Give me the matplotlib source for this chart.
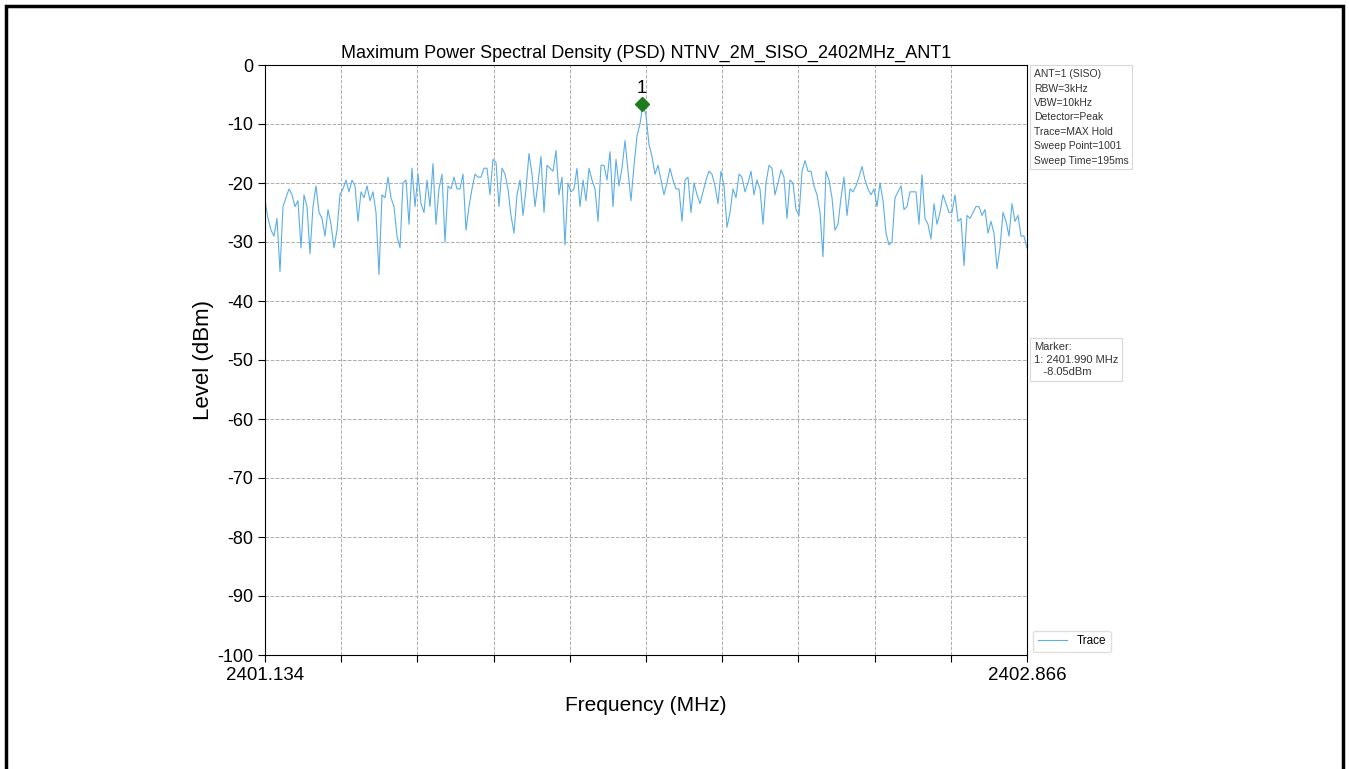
# max PSD plot, 2402 MHz, ANT1

import numpy as np
import matplotlib
matplotlib.use('Agg')
import matplotlib.pyplot as plt
from matplotlib.patches import Rectangle

plt.rcParams['font.family'] = ['Liberation Sans', 'DejaVu Sans']
plt.rcParams['axes.unicode_minus'] = False

f_start = 2401.134
f_stop = 2402.866

level = [
    -23, -26, -28, -29, -26, -35, -24, -22.5, -21, -22, -24, -23, -31, -22, -24,
    -32, -24, -20.5, -25, -26, -29, -24.5, -27, -31, -28, -22, -21, -19.5, -21.5,
    -19.5, -20.5, -26.5, -21.5, -22.5, -20.5, -23, -21.5, -25, -35.5, -22, -22.5,
    -19, -22.5,
    -24, -29, -31, -20, -19.5, -27, -17.5, -24, -18.5, -23.5, -25, -19.5, -24,
    -16.7, -27, -21, -18.5, -30, -20.5, -21, -19, -21, -21, -18.5, -28, -24, -21,
    -18.5, -19, -19, -17.5, -17.5, -22, -16, -16.5, -24, -17.5, -18.5, -21, -25.5,
    -28.5, -22,
    -19.5, -25.5, -21, -15, -18.5, -24, -20, -15.5, -25, -17, -17.5, -18, -14.5,
    -22, -19, -30.5, -20, -21.5, -21, -17.5, -24, -19.5, -23, -17.5, -19.5, -21,
    -26.5, -17, -17, -19.5, -14.7, -24, -16, -20.5, -17.5, -12.8, -18, -23, -17,
    -12, -10, -6.6,
    -8.5, -13.5, -15.5, -18.5, -17, -19.5, -22, -20, -17.5, -19.5, -21, -21, -26.5,
    -19.5, -19, -25, -20, -22, -23.5, -21.5, -19.5, -18, -18.5, -20.5, -23.5, -18,
    -20.5, -27.5, -25, -21, -22.5, -18.5, -19, -21.5, -20, -18, -22, -19.5, -21,
    -27, -20, -17, -17.5,
    -22, -20, -17.8, -19, -26, -19.5, -20, -24.5, -25.5, -18, -16.2, -18, -18,
    -20.5, -22, -25, -32.5, -18, -19.5, -22.5, -28, -27, -22.5, -19, -25.5, -21,
    -21.5, -20.5, -19, -17.2, -19.5, -21, -22, -21, -24, -20, -23, -28.5, -30.5,
    -30, -22.5, -21.5, -20.5,
    -24.5, -24, -21.5, -21.5, -21.5, -27, -18.6, -26, -27, -29.5, -23.5, -27, -25,
    -22, -23.5, -25, -25, -22, -26.5, -26, -34, -25.5, -26, -25, -24, -24, -25.5,
    -24.5, -28.5, -26.5, -28.5, -34.5, -31, -25, -26.5, -29, -23.5, -26.5, -25.5,
    -29, -29, -31,
]
freq = np.linspace(f_start, f_stop, len(level))

marker_freq = 2401.990
marker_level = -6.6
marker_text = 'Marker:\n1: 2401.990 MHz\n   -8.05dBm'

info = ['ANT=1 (SISO)', 'RBW=3kHz', 'VBW=10kHz', 'Detector=Peak',
        'Trace=MAX Hold', 'Sweep Point=1001', 'Sweep Time=195ms']

fig = plt.figure(figsize=(13.49, 7.69), dpi=100)
ax = fig.add_axes([265 / 1349, 114 / 769, 762 / 1349, 590 / 769])

ax.plot(freq, level, color='#5aaee8', linewidth=0.8, label='Trace')
ax.plot(marker_freq, marker_level, marker='D', color='#1e7b1e', markersize=7)
ax.annotate('1', (marker_freq, marker_level), xytext=(0, 5),
            textcoords='offset points', ha='center', va='bottom', fontsize=13)

ax.set_xlim(f_start, f_stop)
ax.set_ylim(-100, 0)
ticks = np.linspace(f_start, f_stop, 11)
ax.set_xticks(ticks)
ax.set_xticklabels(['%.3f' % ticks[0]] + [''] * 9 + ['%.3f' % ticks[-1]])
ax.set_yticks(range(-100, 1, 10))
ax.tick_params(labelsize=13, length=5)
ax.tick_params(axis='x', labelsize=13.5)
ax.grid(True, linestyle='--', color='#999999', linewidth=0.7, alpha=0.8)

ax.set_title('Maximum Power Spectral Density (PSD) NTNV_2M_SISO_2402MHz_ANT1',
             fontsize=13, pad=5)
ax.set_xlabel('Frequency (MHz)', fontsize=15, labelpad=9)
ax.set_ylabel('Level (dBm)', fontsize=16, labelpad=2)

box = dict(boxstyle='square,pad=0.35', fc='white', ec='#d8d8d8', lw=0.8)
ax.text(1.009, 0.993, '\n'.join(info), transform=ax.transAxes, va='top',
        ha='left', fontsize=7.5, color='#333333', linespacing=1.55, bbox=box)
ax.text(1.009, 0.531, marker_text, transform=ax.transAxes, va='top',
        ha='left', fontsize=8, color='#333333', linespacing=1.35, bbox=box)

ax.legend(loc='lower left', bbox_to_anchor=(1.0, -0.005), fontsize=8.5,
          frameon=True, edgecolor='#d8d8d8', fancybox=True, handlelength=2.5)

fig.patches.append(Rectangle((6 / 1349, -0.02), 1337 / 1349, 1 - 6 / 769 + 0.02,
                             transform=fig.transFigure, fill=False,
                             edgecolor='black', linewidth=2.5))

plt.savefig('out.png', dpi=100)
